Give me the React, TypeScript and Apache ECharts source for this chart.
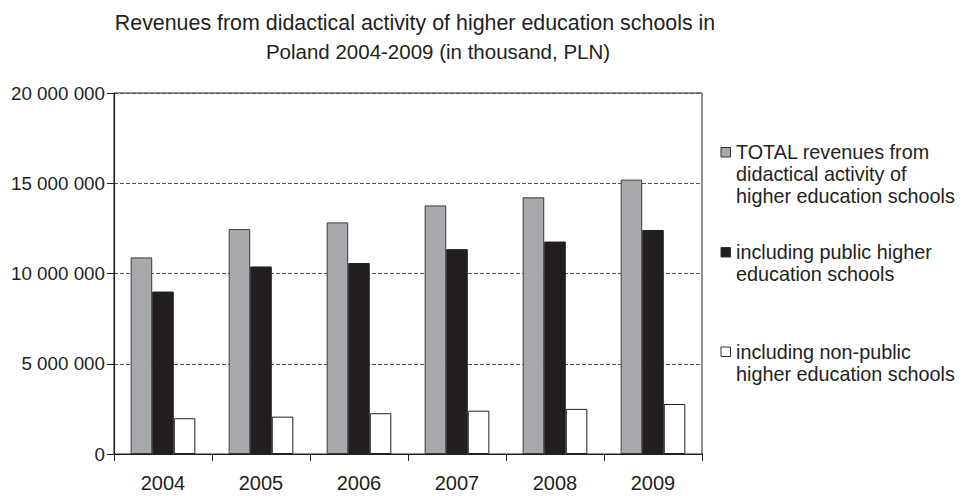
import React, { useEffect, useRef } from "react";
import * as echarts from "echarts";

const years = ["2004", "2005", "2006", "2007", "2008", "2009"];
// Revenues in thousand PLN
const totalRevenues = [10890000, 12460000, 12830000, 13770000, 14220000, 15200000];
const publicRevenues = [9000000, 10390000, 10580000, 11350000, 11770000, 12410000];
const nonPublicRevenues = [1980000, 2070000, 2260000, 2400000, 2500000, 2770000];

const seriesNames = [
  "TOTAL revenues from\ndidactical activity of\nhigher education schools",
  "including public higher\neducation schools",
  "including non-public\nhigher education schools",
];
const titleLines = [
  "Revenues from didactical activity of higher education schools in",
  "Poland 2004-2009 (in thousand, PLN)",
];

const FONT = "'Liberation Sans', Arial, sans-serif";
const INK = "#231f20";
const fills = ["#a7a9ac", "#231f20", "#ffffff"];
const strokes = ["#3a3a3a", "#231f20", "#231f20"];

const fmt = (v: number) => String(Math.round(v)).replace(/\B(?=(\d{3})+(?!\d))/g, " ");

export default function App() {
  const ref = useRef<HTMLDivElement>(null);

  useEffect(() => {
    if (!ref.current) return;
    const chart = echarts.init(ref.current, null, { renderer: "svg" });

    // Legend drawn by hand so the swatch lines up with the first text line
    const legendTops = [152, 252, 351.5];
    const legendGraphics: any[] = [];
    seriesNames.forEach((name, i) => {
      legendGraphics.push({
        type: "rect",
        shape: { x: 721, y: legendTops[i] - 4.5, width: 9.5, height: 9.5 },
        style: { fill: fills[i], stroke: "#333", lineWidth: 1 },
      });
      legendGraphics.push({
        type: "text",
        x: 736,
        y: legendTops[i] - 11,
        style: {
          text: name,
          fill: INK,
          font: `19.8px ${FONT}`,
          lineHeight: 22,
          textVerticalAlign: "top",
        },
      });
    });

    const titleStyle = { fontSize: 20.5, fontWeight: "normal", color: INK, fontFamily: FONT };

    chart.setOption({
      animation: false,
      backgroundColor: "#ffffff",
      textStyle: { fontFamily: FONT, color: INK },
      title: [
        {
          text: titleLines[0],
          left: 410,
          top: 7,
          textAlign: "center",
          textStyle: { ...titleStyle, fontSize: 21.4 },
        },
        { text: titleLines[1], left: 433, top: 36, textAlign: "center", textStyle: titleStyle },
      ],
      grid: {
        left: 114,
        right: 264,
        top: 93,
        bottom: 42,
        show: true,
        borderColor: INK,
        borderWidth: 1,
        backgroundColor: "transparent",
      },
      xAxis: {
        type: "category",
        data: years,
        axisLine: { lineStyle: { color: INK, width: 1.2 } },
        axisTick: { show: true, alignWithLabel: false, length: 7, lineStyle: { color: INK } },
        axisLabel: { fontSize: 20, color: INK, margin: 19, fontFamily: FONT },
      },
      yAxis: {
        type: "value",
        min: 0,
        max: 20000000,
        interval: 5000000,
        axisLine: { show: true, lineStyle: { color: INK, width: 1.2 } },
        axisTick: { show: true, length: 7, lineStyle: { color: INK } },
        axisLabel: { fontSize: 18.8, color: INK, margin: 9, formatter: fmt, fontFamily: FONT },
        splitLine: { show: true, lineStyle: { color: "#555", type: [4, 2], width: 1 } },
      },
      series: [totalRevenues, publicRevenues, nonPublicRevenues].map((data, i) => ({
        type: "bar",
        name: seriesNames[i],
        data,
        barGap: "0%",
        barCategoryGap: "34%",
        itemStyle: { color: fills[i], borderColor: strokes[i], borderWidth: 1 },
      })),
      graphic: legendGraphics,
    });

    return () => chart.dispose();
  }, []);

  return <div ref={ref} style={{ width: 966, height: 496, position: "absolute", left: 0, top: 0 }} />;
}
